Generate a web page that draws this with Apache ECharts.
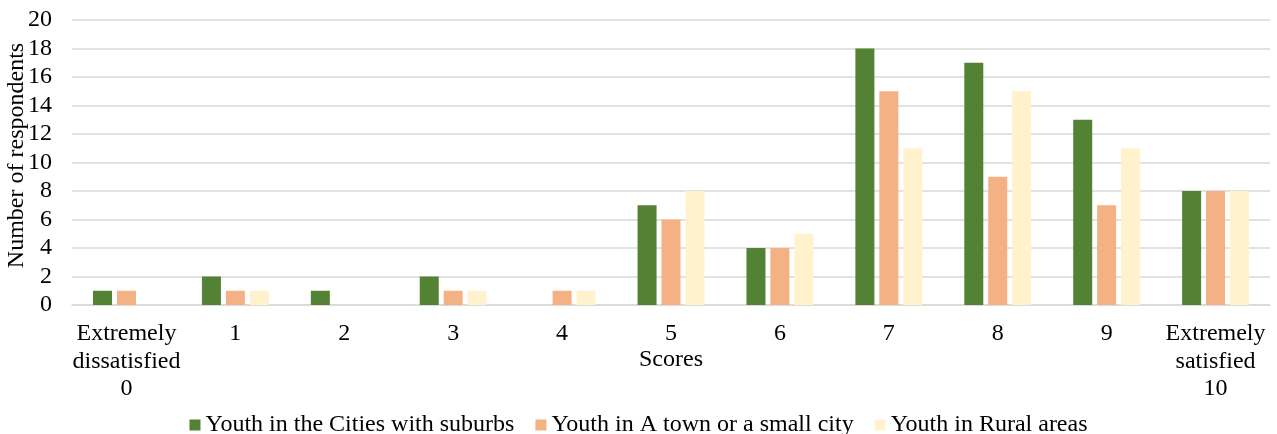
<!DOCTYPE html>
<html>
<head>
<meta charset="utf-8">
<script src="https://cdn.jsdelivr.net/npm/echarts@6/dist/echarts.min.js"></script>
<style>
  html, body { margin: 0; padding: 0; background: #fff; }
  #chart { width: 1277px; height: 434px; }
</style>
</head>
<body>
<div id="chart"></div>
<script>
// Satisfaction scores (0–10) by place of residence
const categories = [
  'Extremely\ndissatisfied\n0', '1', '2', '3', '4', '5', '6', '7', '8', '9',
  'Extremely\nsatisfied\n10'
];
const seriesNames = [
  'Youth in the Cities with suburbs',
  'Youth in A town or a small city',
  'Youth in Rural areas'
];
const citiesValues = [1, 2, 1, 2, 0, 7, 4, 18, 17, 13, 8];
const townValues   = [1, 1, 0, 1, 1, 6, 4, 15, 9, 7, 8];
const ruralValues  = [0, 1, 0, 1, 1, 8, 5, 11, 15, 11, 8];
const yTicks = { min: 0, max: 20, interval: 2 };

const colors = ['#548235', '#F4B183', '#FFF2CC'];
const font = "'Liberation Serif', 'Times New Roman', serif";
const gridColor = '#D9D9D9';

const chart = echarts.init(document.getElementById('chart'), null, { renderer: 'canvas' });

const makeBar = (name, data, color) => ({
  name,
  type: 'bar',
  data,
  barWidth: 19,
  barGap: '26%',
  itemStyle: { color },
  emphasis: { disabled: true }
});

chart.setOption({
  animation: false,
  backgroundColor: '#ffffff',
  textStyle: { fontFamily: font, color: '#000' },
  grid: {
    left: 72, right: 7, top: 20, bottom: 129,
    containLabel: false,
    outerBoundsMode: 'none'
  },
  legend: {
    top: 408,
    left: 'center',
    itemWidth: 11,
    itemHeight: 11,
    itemGap: 21,
    icon: 'rect',
    textStyle: { fontFamily: font, fontSize: 24, color: '#000' },
    data: seriesNames
  },
  xAxis: {
    type: 'category',
    data: categories,
    name: 'Scores',
    nameLocation: 'middle',
    nameGap: 41,
    nameMoveOverlap: false,
    nameTextStyle: { fontFamily: font, fontSize: 24, color: '#000', lineHeight: 27.5 },
    axisLine: { show: true, lineStyle: { color: gridColor, width: 1.5 } },
    axisTick: { show: false },
    axisLabel: {
      interval: 0,
      margin: 15,
      fontFamily: font,
      fontSize: 24,
      lineHeight: 27.5,
      color: '#000'
    }
  },
  yAxis: {
    type: 'value',
    min: yTicks.min,
    max: yTicks.max,
    interval: yTicks.interval,
    name: 'Number of respondents',
    nameLocation: 'middle',
    nameGap: 43,
    nameMoveOverlap: false,
    nameTextStyle: {
      fontFamily: font, fontSize: 24, color: '#000', lineHeight: 24,
      padding: [0, 0, 0, 14]
    },
    axisLine: { show: false },
    axisTick: { show: false },
    axisLabel: { margin: 20, fontFamily: font, fontSize: 24, color: '#000' },
    splitLine: { show: true, lineStyle: { color: gridColor, width: 1.5 } }
  },
  series: [
    makeBar(seriesNames[0], citiesValues, colors[0]),
    makeBar(seriesNames[1], townValues, colors[1]),
    makeBar(seriesNames[2], ruralValues, colors[2])
  ]
});
</script>
</body>
</html>
